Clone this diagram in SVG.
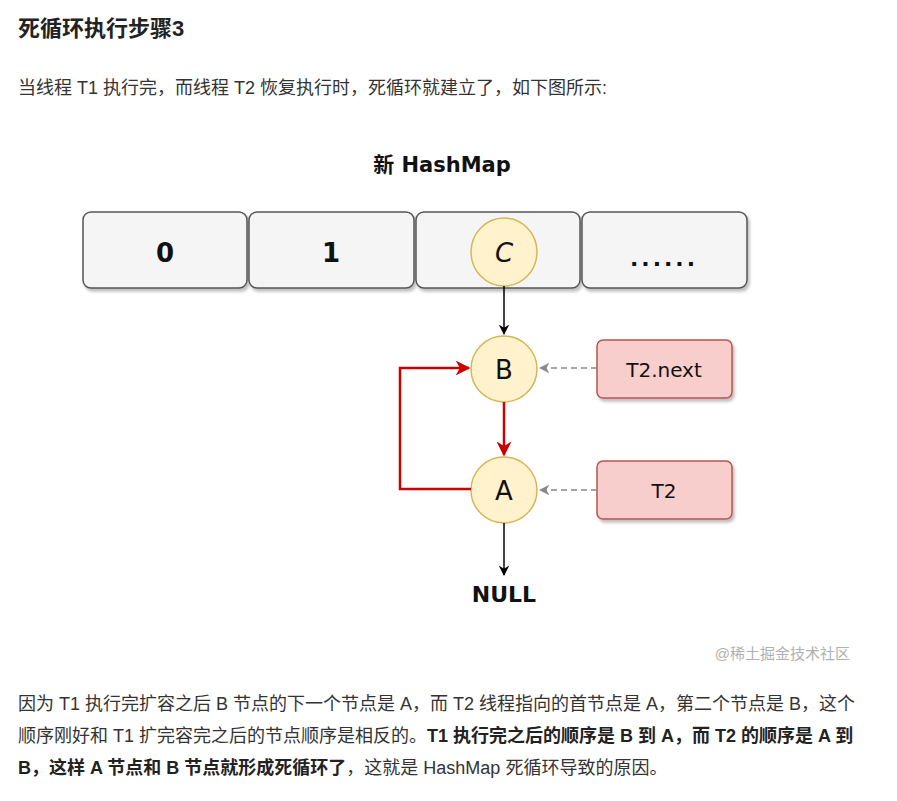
<svg xmlns="http://www.w3.org/2000/svg" width="897" height="801" viewBox="0 0 897 801">
<style>
.t{font-family:"Liberation Sans","Noto Sans CJK SC",sans-serif;font-size:18px;fill:#333}
.b{font-weight:bold;fill:#222}
.d{font-family:"DejaVu Sans","Noto Sans CJK SC",sans-serif;fill:#111;text-anchor:middle}
.cell{fill:#f5f5f5;stroke:#555;stroke-width:1.5}
.node{fill:#fff2cc;stroke:#d6b656;stroke-width:1.5}
.ptr{fill:#f8cecc;stroke:#b85450;stroke-width:1.5}
</style>
<defs>
<marker id="ab" viewBox="0 0 10 10" refX="9" refY="5" markerWidth="7" markerHeight="7" orient="auto"><path d="M0,0 L10,5 L0,10 L3,5 z" fill="#000"/></marker>
<marker id="ar" viewBox="0 0 10 10" refX="9" refY="5" markerWidth="6" markerHeight="6" orient="auto"><path d="M0,0 L10,5 L0,10 L3,5 z" fill="#c00"/></marker>
<marker id="ag" viewBox="0 0 10 10" refX="9" refY="5" markerWidth="7" markerHeight="7" orient="auto"><path d="M0,0 L10,5 L0,10 L3,5 z" fill="#888"/></marker>
<filter id="sh" x="-10%" y="-10%" width="130%" height="140%"><feDropShadow dx="2" dy="3" stdDeviation="1.5" flood-color="#000" flood-opacity="0.25"/></filter>
</defs>
<rect width="897" height="801" fill="#fff"/>
<text class="t b" x="18" y="36" style="font-size:22px">死循环执行步骤3</text>
<text class="t" x="18" y="94">当线程 T1 执行完，而线程 T2 恢复执行时，死循环就建立了，如下图所示:</text>
<text class="d" x="442" y="172" font-size="21" font-weight="bold">新 HashMap</text>
<g id="cell0"><rect class="cell" x="83" y="212" width="164" height="76" rx="8" filter="url(#sh)"/><text class="d" x="165" y="262" font-size="26" font-weight="bold">0</text></g>
<g id="cell1"><rect class="cell" x="249" y="212" width="165" height="76" rx="8" filter="url(#sh)"/><text class="d" x="331" y="262" font-size="26" font-weight="bold">1</text></g>
<g id="cell2"><rect class="cell" x="416" y="212" width="164" height="76" rx="8" filter="url(#sh)"/></g>
<g id="cell3"><rect class="cell" x="582" y="212" width="165" height="76" rx="8" filter="url(#sh)"/><text class="d" x="664" y="266" font-size="22" font-weight="bold" letter-spacing="3">......</text></g>
<g id="nodeC"><ellipse class="node" cx="504" cy="252" rx="33" ry="34"/><text class="d" x="504" y="262" font-size="26" font-style="italic">C</text></g>
<g id="nodeB"><circle class="node" cx="504" cy="369" r="33"/><text class="d" x="504" y="379" font-size="26">B</text></g>
<g id="nodeA"><circle class="node" cx="504" cy="490" r="33"/><text class="d" x="504" y="500" font-size="26">A</text></g>
<g id="t2next"><rect class="ptr" x="597" y="340" width="135" height="58" rx="6" filter="url(#sh)"/><text class="d" x="664" y="377" font-size="20">T2.next</text></g>
<g id="t2"><rect class="ptr" x="597" y="461" width="135" height="58" rx="6" filter="url(#sh)"/><text class="d" x="664" y="498" font-size="20">T2</text></g>
<g id="null"><text class="d" x="504" y="602" font-size="22" font-weight="bold">NULL</text></g>
<g id="connectors" fill="none">
<line x1="504" y1="286" x2="504" y2="334" stroke="#000" stroke-width="1.5" marker-end="url(#ab)"/>
<line x1="504" y1="402" x2="504" y2="455" stroke="#c00" stroke-width="2.5" marker-end="url(#ar)"/>
<polyline points="471,489 400,489 400,368 469,368" stroke="#c00" stroke-width="2.5" marker-end="url(#ar)"/>
<line x1="504" y1="523" x2="504" y2="575" stroke="#000" stroke-width="1.5" marker-end="url(#ab)"/>
<line x1="597" y1="368" x2="540" y2="368" stroke="#888" stroke-width="1.5" stroke-dasharray="6,4" marker-end="url(#ag)"/>
<line x1="597" y1="490" x2="540" y2="490" stroke="#888" stroke-width="1.5" stroke-dasharray="6,4" marker-end="url(#ag)"/>
</g>
<text class="t" x="850" y="659" style="font-size:15px;fill:#b0b0b0" text-anchor="end">@稀土掘金技术社区</text>
<text class="t" x="18" y="710">因为 T1 执行完扩容之后 B 节点的下一个节点是 A，而 T2 线程指向的首节点是 A，第二个节点是 B，这个</text>
<text class="t" x="18" y="742">顺序刚好和 T1 扩完容完之后的节点顺序是相反的。<tspan class="b">T1 执行完之后的顺序是 B 到 A，而 T2 的顺序是 A 到</tspan></text>
<text class="t" x="18" y="774"><tspan class="b">B，这样 A 节点和 B 节点就形成死循环了</tspan>，这就是 HashMap 死循环导致的原因。</text>
</svg>
